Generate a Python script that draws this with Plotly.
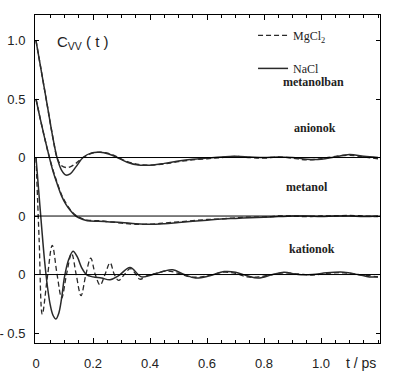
import plotly.graph_objects as go

# ---------------- data (values relative to each curve's own baseline) ----------------
offsets = {"anionok": 0.0, "metanol": -0.5, "kationok": -1.0}

t_an = [0, 0.02, 0.04, 0.06, 0.075, 0.09, 0.105, 0.12, 0.14, 0.165, 0.195, 0.225, 0.255,
        0.285, 0.32, 0.36, 0.4, 0.45, 0.5, 0.55, 0.6, 0.65, 0.7, 0.75, 0.8, 0.85, 0.9,
        0.95, 1.0, 1.05, 1.1, 1.15, 1.2]
an_nacl = [1.0, 0.72, 0.44, 0.16, -0.01, -0.11, -0.15, -0.14, -0.08, 0.0, 0.04, 0.045, 0.03,
           0.0, -0.04, -0.065, -0.065, -0.05, -0.03, -0.015, -0.005, 0.005, 0.01, 0.005, 0.0,
           0.005, 0.0, -0.015, -0.015, 0.005, 0.025, 0.01, 0.0]
an_mgcl = [1.0, 0.72, 0.44, 0.16, -0.01, -0.07, -0.085, -0.08, -0.05, 0.0, 0.035, 0.045, 0.035,
           0.005, -0.035, -0.06, -0.065, -0.055, -0.035, -0.02, -0.01, 0.0, 0.01, 0.0, -0.005,
           0.005, -0.005, -0.02, -0.01, 0.01, 0.02, 0.005, -0.01]

t_me = [0, 0.015, 0.03, 0.045, 0.06, 0.075, 0.09, 0.105, 0.12, 0.135, 0.15, 0.18, 0.22, 0.26,
        0.3, 0.35, 0.4, 0.45, 0.5, 0.55, 0.6, 0.65, 0.7, 0.75, 0.8, 0.85, 0.9, 0.95, 1.0,
        1.05, 1.1, 1.15, 1.2]
me_nacl = [1.0, 0.83, 0.67, 0.52, 0.38, 0.27, 0.17, 0.1, 0.05, 0.01, -0.015, -0.04, -0.045,
           -0.05, -0.055, -0.065, -0.07, -0.065, -0.055, -0.045, -0.035, -0.025, -0.02, -0.015,
           -0.01, -0.005, 0.0, 0.0, -0.005, 0.0, 0.0, -0.005, 0.0]
me_mgcl = [1.0, 0.83, 0.67, 0.52, 0.39, 0.28, 0.18, 0.11, 0.055, 0.015, -0.01, -0.035, -0.04,
           -0.05, -0.06, -0.07, -0.07, -0.06, -0.05, -0.04, -0.03, -0.025, -0.015, -0.01, -0.01,
           0.0, 0.0, -0.005, 0.0, 0.0, 0.005, 0.0, -0.005]

t_ka_na = [0, 0.01, 0.02, 0.03, 0.04, 0.05, 0.06, 0.07, 0.08, 0.09, 0.1, 0.115, 0.13, 0.145,
           0.16, 0.177, 0.2, 0.23, 0.26, 0.29, 0.33, 0.37, 0.41, 0.45, 0.48, 0.52, 0.56, 0.61,
           0.66, 0.7, 0.74, 0.78, 0.83, 0.87, 0.92, 0.97, 1.02, 1.08, 1.13, 1.17, 1.2]
ka_nacl = [1.0, 0.7, 0.4, 0.12, -0.1, -0.26, -0.35, -0.38, -0.33, -0.2, -0.02, 0.13, 0.2, 0.15,
           0.06, 0.0, -0.02, -0.03, -0.045, -0.01, 0.06, -0.02, 0.0, 0.03, 0.04, 0.0, -0.03,
           -0.01, 0.025, 0.02, -0.01, -0.03, 0.0, 0.02, 0.0, 0.0, 0.015, 0.02, 0.0, -0.02, -0.02]

t_ka_mg = [0, 0.011, 0.022, 0.04, 0.057, 0.074, 0.09, 0.107, 0.125, 0.141, 0.158, 0.175, 0.192,
           0.208, 0.225, 0.242, 0.26, 0.275, 0.29, 0.31, 0.33, 0.345, 0.365, 0.39, 0.42, 0.46,
           0.5, 0.54, 0.58, 0.62, 0.66, 0.7, 0.74, 0.78, 0.83, 0.87, 0.92, 0.97, 1.02, 1.08,
           1.13, 1.17, 1.2]
ka_mgcl = [1.0, 0.3, -0.34, -0.02, 0.25, 0.0, -0.2, 0.0, 0.18, 0.0, -0.18, 0.0, 0.14, 0.0,
           -0.09, 0.0, 0.1, 0.0, -0.05, 0.0, 0.05, 0.02, -0.04, -0.01, 0.01, 0.03, 0.01, -0.02,
           -0.02, 0.0, 0.02, 0.01, -0.02, -0.02, 0.0, 0.015, 0.005, -0.005, 0.01, 0.015, 0.0,
           -0.01, -0.02]

ytick_vals = [1.0, 0.5, 0.0, -0.5, -1.0, -1.5]
ytick_text = ["1.0", "0.5", "0", "0", "0", "- 0.5"]
xtick_vals = [0, 0.2, 0.4, 0.6, 0.8, 1.0]
xtick_text = ["0", "0.2", "0.4", "0.6", "0.8", "1.0"]

# ---------------- figure ----------------
LINE = "#2a2a2a"
fig = go.Figure()

for name, off in offsets.items():
    fig.add_hline(y=off, line=dict(color="black", width=1))

series = [
    ("anionok", t_an, an_mgcl, an_nacl),
    ("metanol", t_me, me_mgcl, me_nacl),
]
first = True
for key, t, mg, na in series:
    off = offsets[key]
    fig.add_trace(go.Scatter(x=t, y=[v + off for v in mg], mode="lines", line_shape="spline",
                             line=dict(color=LINE, width=1.4, dash="5px,3px"),
                             name="MgCl<sub>2</sub>", legendgroup="mg", showlegend=first))
    fig.add_trace(go.Scatter(x=t, y=[v + off for v in na], mode="lines", line_shape="spline",
                             line=dict(color=LINE, width=1.5),
                             name="NaCl", legendgroup="na", showlegend=first))
    first = False

off = offsets["kationok"]
fig.add_trace(go.Scatter(x=t_ka_mg, y=[v + off for v in ka_mgcl], mode="lines", line_shape="spline",
                         line=dict(color=LINE, width=1.3, dash="5px,3px"),
                         name="MgCl<sub>2</sub>", legendgroup="mg", showlegend=False))
fig.add_trace(go.Scatter(x=t_ka_na, y=[v + off for v in ka_nacl], mode="lines", line_shape="spline",
                         line=dict(color=LINE, width=1.5),
                         name="NaCl", legendgroup="na", showlegend=False))

serif = dict(family="Liberation Serif, Times New Roman, serif", size=12, color="#222")
fig.add_annotation(x=0.972, y=0.645, text="<b>metanolban</b>", showarrow=False, font=serif)
fig.add_annotation(x=0.98, y=0.252, text="<b>anionok</b>", showarrow=False, font=serif)
fig.add_annotation(x=0.95, y=-0.252, text="<b>metanol</b>", showarrow=False, font=serif)
fig.add_annotation(x=0.97, y=-0.782, text="<b>kationok</b>", showarrow=False, font=serif)
fig.add_annotation(x=0.065, y=0.985, text="C<sub>VV</sub> ( t )", showarrow=False, xanchor="left",
                   font=dict(family="Liberation Sans, Arial, sans-serif", size=15, color="#222"))
fig.add_annotation(x=1.14, y=0, yref="paper", text="t / ps", showarrow=False, yanchor="top", yshift=-10,
                   font=dict(family="Liberation Sans, Arial, sans-serif", size=14, color="#222"))

fig.update_layout(
    width=400, height=378,
    margin=dict(l=35, r=20, t=15, b=35, autoexpand=False),
    paper_bgcolor="white", plot_bgcolor="white",
    showlegend=True,
    legend=dict(x=0.632, y=0.982, xanchor="left", yanchor="top", bgcolor="rgba(0,0,0,0)",
                font=dict(family="Liberation Serif, Times New Roman, serif", size=12, color="#222"),
                tracegroupgap=14, itemwidth=30, traceorder="grouped"),
)
fig.update_xaxes(range=[-0.0035, 1.207], tickvals=xtick_vals, ticktext=xtick_text,
                 automargin=False,
                 showgrid=False, zeroline=False, showline=True, linecolor="black", linewidth=1,
                 mirror="ticks", ticks="inside", ticklen=5, tickcolor="black",
                 minor=dict(dtick=0.05, ticks="inside", ticklen=3, tickcolor="black"),
                 ticklabelstandoff=8,
                 tickfont=dict(family="Liberation Sans, Arial, sans-serif", size=13, color="#222"))
fig.update_yaxes(range=[-1.585, 1.218], tickvals=ytick_vals, ticktext=ytick_text,
                 automargin=False,
                 showgrid=False, zeroline=False, showline=True, linecolor="black", linewidth=1,
                 mirror="ticks", ticks="inside", ticklen=4, tickcolor="black",
                 ticklabelstandoff=6,
                 tickfont=dict(family="Liberation Sans, Arial, sans-serif", size=13, color="#222"))

# remove the page's default 8px body margin so the figure sits at the window's top-left
fig.write_html("out.html", config={"displayModeBar": False},
               post_script="document.body.style.margin='0';")
